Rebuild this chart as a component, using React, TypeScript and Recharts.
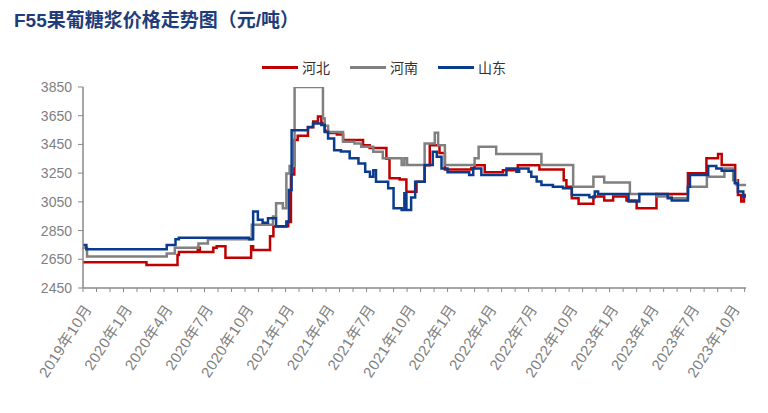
import React from 'react';
import { LineChart, Line, XAxis, YAxis } from 'recharts';

// months counted from 2019-10 (0 = 2019年10月), step changes only
const hebeiMonths = [0, 4.7, 7.0, 7.1, 8.5, 8.65, 9.65, 9.9, 10.55, 12.45, 12.6, 13.85, 14.1, 15.2, 15.4, 15.65, 15.9, 16.66, 17.05, 17.4, 17.65, 17.9, 18.15, 18.8, 19.26, 20.74, 21.23, 22.47, 22.7, 23.45, 23.95, 24.7, 25.3, 25.68, 26.4, 26.8, 28.76, 29.0, 29.75, 31.1, 32.2, 33.8, 35.6, 35.8, 36.2, 36.7, 37.8, 38.6, 39.26, 40.25, 41.0, 42.47, 44.8, 46.17, 47.03, 47.3, 48.3, 48.5, 48.75, 48.95, 49.1];
const hebeiPrices = [2630, 2610, 2680, 2700, 2730, 2700, 2730, 2740, 2660, 2740, 2715, 2810, 2880, 2910, 3240, 3480, 3510, 3570, 3610, 3645, 3600, 3545, 3530, 3520, 3480, 3445, 3425, 3350, 3215, 3205, 3120, 3190, 3305, 3445, 3390, 3275, 3285, 3305, 3256, 3270, 3305, 3276, 3200, 3156, 3075, 3036, 3087, 3059, 3087, 3059, 3006, 3105, 3249, 3353, 3383, 3307, 3200, 3098, 3052, 3098, 3098];

const henanMonths = [0, 0.3, 6.2, 6.8, 8.55, 9.25, 12.5, 14.07, 14.3, 14.8, 15.06, 15.3, 15.67, 17.77, 17.9, 18.15, 19.26, 20.1, 20.6, 21.5, 22.2, 23.6, 23.8, 24.0, 25.3, 26.05, 26.3, 26.8, 29.0, 29.3, 30.6, 33.95, 36.3, 37.8, 38.6, 40.5, 42.5, 43.6, 44.8, 46.2, 47.5, 48.15, 48.4, 49.1];
const henanPrices = [2730, 2670, 2690, 2730, 2760, 2790, 2890, 2948, 3040, 3005, 3248, 3300, 3850, 3630, 3580, 3537, 3468, 3457, 3434, 3399, 3353, 3306, 3353, 3306, 3457, 3531, 3445, 3306, 3353, 3434, 3383, 3307, 3156, 3225, 3184, 3105, 3087, 3075, 3156, 3225, 3283, 3200, 3168, 3168];

const shandongMonths = [0, 0.25, 6.2, 6.85, 7.1, 12.3, 12.6, 12.95, 13.3, 13.7, 14.3, 15.06, 15.25, 15.45, 16.66, 17.03, 17.65, 17.9, 18.15, 18.6, 19.1, 19.75, 20.4, 20.9, 21.25, 21.5, 21.7, 22.6, 23.0, 23.6, 23.8, 23.95, 24.3, 24.6, 25.3, 25.9, 26.2, 26.55, 27.0, 28.6, 28.9, 29.5, 31.36, 32.1, 32.3, 33.0, 33.2, 33.6, 33.95, 34.8, 35.55, 36.2, 37.5, 37.9, 38.15, 40.4, 41.2, 43.3, 43.6, 44.8, 44.95, 46.3, 46.9, 47.3, 48.27, 48.5, 48.9, 49.1];
const shandongPrices = [2750, 2720, 2750, 2790, 2800, 2790, 2982, 2925, 2905, 2936, 2878, 2913, 3133, 3549, 3572, 3595, 3585, 3537, 3491, 3410, 3400, 3353, 3318, 3260, 3225, 3270, 3190, 3144, 3006, 2994, 3110, 2994, 3080, 3190, 3306, 3399, 3365, 3283, 3256, 3237, 3283, 3237, 3283, 3260, 3283, 3260, 3225, 3191, 3168, 3156, 3145, 3098, 3082, 3122, 3105, 3052, 3105, 3075, 3059, 3156, 3237, 3300, 3283, 3267, 3180, 3122, 3087, 3087];

const yTicks = [2450, 2650, 2850, 3050, 3250, 3450, 3650, 3850];
const monthTicks = Array.from({ length: 50 }, (_, i) => i);

const series = [
  { name: '河北', color: '#c00000', months: hebeiMonths, prices: hebeiPrices },
  { name: '河南', color: '#808080', months: henanMonths, prices: henanPrices },
  { name: '山东', color: '#0a3b8c', months: shandongMonths, prices: shandongPrices },
];

const toPoints = (ms: number[], vs: number[]) => ms.map((m, i) => ({ m, v: vs[i] }));

const axisColor = '#898989';
const font = '"Liberation Sans", Arial, "Noto Sans CJK SC", sans-serif';

function monthLabel(m: number) {
  const total = 9 + m;
  const year = 2019 + Math.floor(total / 12);
  const month = (total % 12) + 1;
  return `${year}年${month}月`;
}

const MonthTick = (props: any) => {
  const { x, y, payload } = props;
  const m = payload.value;
  if (m % 3 !== 0 || m > 48) return <g />;
  const ax = x + 5;
  const ay = y + 12;
  return (
    <text
      x={ax}
      y={ay}
      textAnchor="end"
      dy="0.35em"
      fontSize={15}
      letterSpacing={0.4}
      fontFamily={font}
      fill="#7f7f7f"
      transform={`rotate(-57, ${ax}, ${ay})`}
    >
      {monthLabel(m)}
    </text>
  );
};

export default function App() {
  return (
    <div style={{ position: 'absolute', left: 0, top: 0, width: 768, height: 413, background: '#fff' }}>
      <div
        style={{
          position: 'absolute',
          left: 14,
          top: 10,
          fontSize: 19,
          lineHeight: '22px',
          fontWeight: 700,
          color: '#1f3d7a',
          fontFamily: '"Liberation Sans", "Noto Sans CJK SC", sans-serif',
          whiteSpace: 'nowrap',
        }}
      >
        F55果葡糖浆价格走势图（元/吨）
      </div>
      <div
        style={{
          position: 'absolute',
          left: 0,
          top: 57,
          width: 768,
          display: 'flex',
          justifyContent: 'center',
          gap: 20,
          fontFamily: '"Noto Sans CJK SC", sans-serif',
          fontSize: 14,
          lineHeight: '20px',
          color: '#333',
        }}
      >
        {series.map((s) => (
          <div key={s.name} style={{ display: 'flex', alignItems: 'center' }}>
            <span style={{ display: 'inline-block', width: 36, height: 3, background: s.color, marginRight: 4 }} />
            <span>{s.name}</span>
          </div>
        ))}
      </div>
      <LineChart width={768} height={413} margin={{ top: 87, right: 22, bottom: 25, left: 23 }}>
        <XAxis
          type="number"
          dataKey="m"
          domain={[0, 49.1]}
          ticks={monthTicks}
          interval={0}
          tick={<MonthTick />}
          height={100}
          tickSize={4}
          axisLine={{ stroke: axisColor, strokeWidth: 1.5 }}
          tickLine={{ stroke: axisColor, strokeWidth: 1 }}
          allowDataOverflow
        />
        <YAxis
          type="number"
          domain={[2450, 3850]}
          ticks={yTicks}
          interval={0}
          width={60}
          tickSize={5}
          tickMargin={6}
          axisLine={{ stroke: axisColor, strokeWidth: 1.5 }}
          tickLine={{ stroke: axisColor, strokeWidth: 1 }}
          tick={{ fontSize: 14, fill: '#7f7f7f', fontFamily: font }}
          allowDataOverflow
        />
        {series.map((s) => (
          <Line
            key={s.name}
            name={s.name}
            data={toPoints(s.months, s.prices)}
            dataKey="v"
            type="stepAfter"
            stroke={s.color}
            strokeWidth={2.5}
            dot={false}
            activeDot={false}
            isAnimationActive={false}
          />
        ))}
      </LineChart>
    </div>
  );
}
